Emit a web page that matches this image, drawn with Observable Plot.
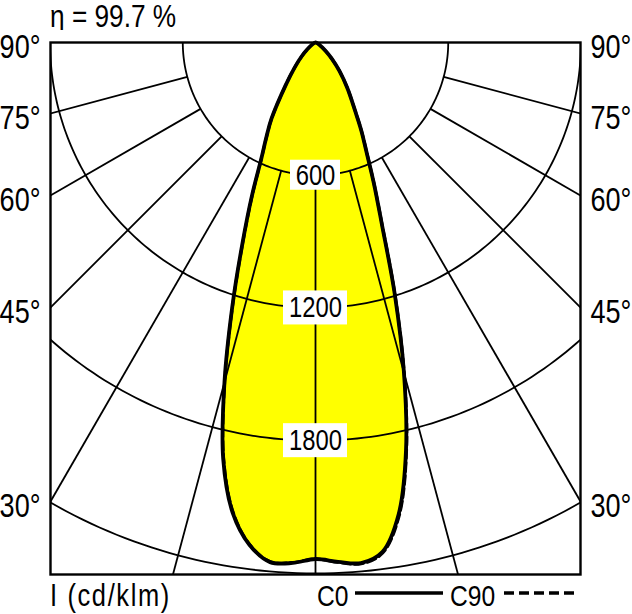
<!DOCTYPE html>
<html><head><meta charset="utf-8">
<script src="https://cdn.jsdelivr.net/npm/d3@7"></script>
<script src="https://cdn.jsdelivr.net/npm/@observablehq/plot@0.6"></script>
<style>
body{margin:0;background:#fff;}
#wrap{position:relative;width:632px;height:614px;font-family:"Liberation Sans",Arial,sans-serif;color:#000;}
#title{position:absolute;left:50px;top:1px;font-size:32px;line-height:30px;white-space:nowrap;transform:scaleX(0.82);transform-origin:0 0;}
#chart{position:absolute;left:0;top:30px;}
.lg{position:absolute;top:581px;font-size:30px;line-height:30px;white-space:nowrap;transform:scaleX(0.82);transform-origin:0 0;}
.lgline{position:absolute;top:590px;}
</style></head><body>
<div id="wrap">
  <div id="title">η = 99.7 %</div>
  <div id="chart"></div>
  <div class="lg" style="left:50px;font-size:31px;letter-spacing:2px">I (cd/klm)</div>
  <div class="lg" style="left:317px">C0</div>
  <svg class="lgline" style="left:355px" width="90" height="6"><line x1="0" y1="3" x2="88" y2="3" stroke="#000" stroke-width="3.5"/></svg>
  <div class="lg" style="left:450px">C90</div>
  <svg class="lgline" style="left:504px" width="76" height="6"><line x1="0" y1="3" x2="74" y2="3" stroke="#000" stroke-width="3.5" stroke-dasharray="10,5"/></svg>
</div>
<script>
// polar angles (degrees from nadir) and luminous intensities (cd/klm)
const gamma = [0, 2.5, 5, 7.5, 10, 12.5, 15, 17.5, 20, 22.5, 25, 27.5, 30, 35, 40, 45, 50, 60, 70, 80, 90];
const iC0   = [2335, 2350, 2362, 2322, 2165, 1890, 1545, 1190, 880, 690, 545, 448, 360, 250, 168, 105, 60, 20, 6, 2, 0];
const iC180 = [2335, 2355, 2358, 2290, 2158, 1928, 1590, 1250, 965, 752, 580, 480, 398, 235, 145, 88, 48, 15, 5, 1, 0];
const iC90  = [2335, 2352, 2366, 2328, 2175, 1900, 1550, 1195, 885, 692, 548, 450, 362, 252, 170, 106, 60, 20, 6, 2, 0];
const iC270 = [2335, 2353, 2356, 2288, 2152, 1920, 1585, 1245, 960, 748, 578, 478, 396, 234, 144, 87, 48, 15, 5, 1, 0];

const rings = [600, 1200, 1800, 2400];
const ringLabels = [600, 1200, 1800];
const spokeAngles = [-75, -60, -45, -30, -15, 0, 15, 30, 45, 60, 75];
const sideLabels = [90, 75, 60, 45, 30];

const xHalf = 1198, yMax = 2405;
const rad = Math.PI / 180;

function plane(left, right) {
  const pts = [];
  for (let i = gamma.length - 1; i >= 0; i--) pts.push({x: -left[i] * Math.sin(gamma[i] * rad), y: left[i] * Math.cos(gamma[i] * rad)});
  for (let i = 1; i < gamma.length; i++) pts.push({x: right[i] * Math.sin(gamma[i] * rad), y: right[i] * Math.cos(gamma[i] * rad)});
  return pts;
}
const p0 = plane(iC180, iC0);
const p90 = plane(iC270, iC90);

const arcs = rings.flatMap(r => d3.range(-90, 90.01, 1).map(a => ({r, x: r * Math.sin(a * rad), y: r * Math.cos(a * rad)})));
const rIn = rings[0], rOut = 4000;

const font = '"Liberation Sans",Arial,sans-serif';

const chart = Plot.plot({
  width: 632, height: 552,
  marginLeft: 50, marginRight: 52, marginTop: 12, marginBottom: 8,
  style: {fontFamily: font, background: "white", overflow: "visible"},
  x: {domain: [-xHalf, xHalf], axis: null},
  y: {domain: [0, yMax], reverse: true, axis: null},
  marks: [
    Plot.line(p0, {x: "x", y: "y", fill: "#ffff00", stroke: "none", curve: "catmull-rom"}),
    Plot.line(arcs, {x: "x", y: "y", z: "r", stroke: "#000", strokeWidth: 1.8, clip: true}),
    Plot.link(spokeAngles, {
      x1: a => rIn * Math.sin(a * rad), y1: a => rIn * Math.cos(a * rad),
      x2: a => rOut * Math.sin(a * rad), y2: a => rOut * Math.cos(a * rad),
      stroke: "#000", strokeWidth: 1.8, clip: true
    }),
    Plot.frame({stroke: "#000", strokeWidth: 2.4}),
    Plot.line(p0, {x: "x", y: "y", stroke: "#000", strokeWidth: 3.8, curve: "catmull-rom"}),
    Plot.line(p90, {x: "x", y: "y", stroke: "#000", strokeWidth: 3, strokeDasharray: "9,4", curve: "catmull-rom"}),
    Plot.rect(ringLabels.filter(d => String(d).length === 3), {x1: 0, x2: 0, y1: d => d, y2: d => d, fill: "white", insetLeft: -25, insetRight: -25, insetTop: -15, insetBottom: -15}),
    Plot.rect(ringLabels.filter(d => String(d).length === 4), {x1: 0, x2: 0, y1: d => d, y2: d => d, fill: "white", insetLeft: -32, insetRight: -32, insetTop: -17, insetBottom: -17}),
    Plot.text(ringLabels, {x: 0, y: d => d, text: d => String(d), fontSize: 29, fill: "#000"}),
    Plot.text(sideLabels, {x: -xHalf, y: a => xHalf / Math.tan(a * rad), text: a => a + "°", textAnchor: "end", dx: -10, dy: 5, fontSize: 33, fill: "#000"}),
    Plot.text(sideLabels, {x: xHalf, y: a => xHalf / Math.tan(a * rad), text: a => a + "°", textAnchor: "start", dx: 10, dy: 5, fontSize: 33, fill: "#000"})
  ]
});
document.getElementById("chart").append(chart);
// condense chart texts horizontally (narrow typeface look)
chart.querySelectorAll("text").forEach(t => {
  const len = t.getComputedTextLength();
  if (len > 0) {
    t.setAttribute("textLength", (len * 0.82).toFixed(2));
    t.setAttribute("lengthAdjust", "spacingAndGlyphs");
  }
});
</script>
</body></html>
